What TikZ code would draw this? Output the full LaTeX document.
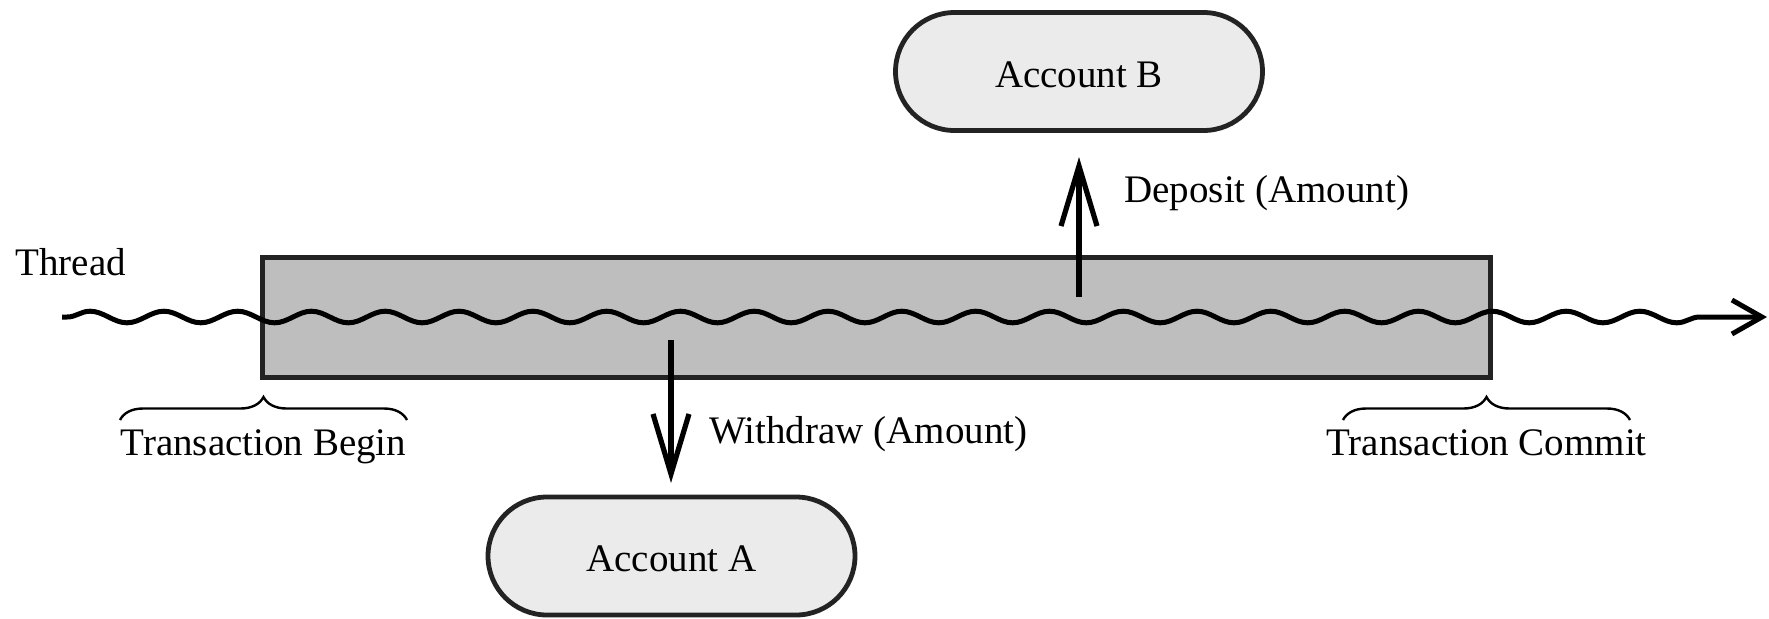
\documentclass[tikz,border=0pt]{standalone}
\usepackage{fontspec}
\setmainfont{Liberation Serif}
\usetikzlibrary{arrows.meta,decorations.pathmorphing,decorations.pathreplacing,shapes.misc}

\definecolor{edgegray}{HTML}{232323}
\definecolor{bargray}{HTML}{BEBEBE}
\definecolor{acctgray}{HTML}{EBEBEB}

\begin{document}
\begin{tikzpicture}[x=0.5pt,y=-0.5pt,
  labeltext/.style={font=\fontsize{19.5pt}{23pt}\selectfont, inner sep=0pt},
  account/.style={rounded rectangle, draw=edgegray, line width=2.4pt, fill=acctgray,
    minimum width=183.5pt, minimum height=59pt, inner sep=0pt,
    text height=15.5pt, text depth=0pt,
    font=\fontsize{19.5pt}{23pt}\selectfont},
  txbar/.style={rectangle, draw=edgegray, line width=2.4pt, fill=bargray,
    minimum width=614pt, minimum height=60pt, inner sep=0pt},
  thread/.style={line width=2.5pt, decorate,
    decoration={snake, segment length=36.9pt, amplitude=2.9pt,
      pre length=2.5pt, post length=25pt},
    -{Straight Barb[length=15pt,width=17pt]}},
  callarrow/.style={line width=2.6pt, -{Straight Barb[length=30pt,width=18pt]}},
  span/.style={line width=1.2pt, decorate, decoration={brace, amplitude=11.5pt}},
]
\useasboundingbox (0,0) rectangle (1769,618);

% transaction bar and the two accounts
\node[txbar] (tx) at (876.5,317.5) {};
\node[account] (accB) at (1079,71.5) {Account B};
\node[account] (accA) at (671.5,556) {Account A};

% the thread running through the transaction
\coordinate (th0) at (62,317);
\coordinate (th1) at (1767,317);
\draw[thread] (th0) -- (th1);
\node[labeltext, anchor=base west] (thlabel) at (15,275) {Thread};

% withdraw and deposit calls
\coordinate (wd0) at (671,340);
\coordinate (wd1) at (671,483);
\draw[callarrow] (wd0) -- (wd1);
\node[labeltext, anchor=base west] (wdlabel) at (709,443) {Withdraw (Amount)};

\coordinate (dp0) at (1079,297);
\coordinate (dp1) at (1079,157);
\draw[callarrow] (dp0) -- (dp1);
\node[labeltext, anchor=base west] (dplabel) at (1124,202) {Deposit (Amount)};

% begin and commit markers
\coordinate (bb0) at (120,420);
\coordinate (bb1) at (407,420);
\draw[span] (bb0) -- (bb1);
\node[labeltext, anchor=base] (bblabel) at (263.5,455) {Transaction Begin};

\coordinate (cb0) at (1343,420);
\coordinate (cb1) at (1630,420);
\draw[span] (cb0) -- (cb1);
\node[labeltext, anchor=base] (cblabel) at (1486.5,455) {Transaction Commit};
\end{tikzpicture}
\end{document}
